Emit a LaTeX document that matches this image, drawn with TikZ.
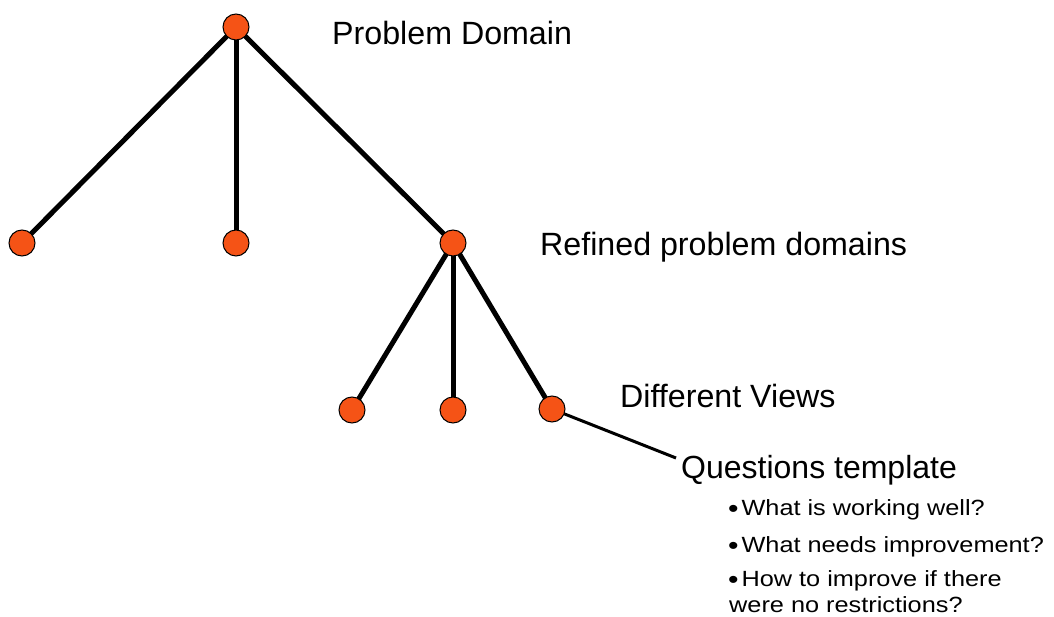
\documentclass[tikz,border=0pt]{standalone}
\usepackage{fontspec}
\usepackage{graphicx}
\setmainfont{Liberation Sans}
\definecolor{dotorange}{RGB}{245,83,22}
% bullet item text: slightly widened 22pt type
\newcommand{\qline}[1]{\scalebox{1.15}[1]{#1}}
\newcommand{\qbullet}{\raisebox{-2.8pt}{\fontsize{26}{26}\selectfont\textbullet}\hspace{2.5pt}}
\begin{document}
\begin{tikzpicture}[x=1pt,y=-1pt,
  dot/.style={circle,draw=black,line width=1pt,fill=dotorange,minimum size=26pt,inner sep=0pt},
  branch/.style={line width=5pt},
  leader/.style={line width=3pt},
  label/.style={anchor=base west,inner sep=0pt,font=\fontsize{32.2}{36}\selectfont},
  bigger/.style={anchor=base west,inner sep=0pt,font=\fontsize{32}{38}\selectfont},
  item/.style={anchor=base west,inner sep=0pt,font=\fontsize{22}{26}\selectfont}]
\useasboundingbox (0,0) rectangle (1054,617);

% tree lines (drawn first so the dots sit on top)
\coordinate (p0) at (236,27);
\coordinate (p1) at (22,243);
\coordinate (p2) at (236,243);
\coordinate (p3) at (453,243);
\coordinate (p4) at (352,410);
\coordinate (p5) at (453,410);
\coordinate (p6) at (552,409);
\coordinate (qend) at (676,458);

\draw[branch] (p0) -- (p1);
\draw[branch] (p0) -- (p2);
\draw[branch] (p0) -- (p3);
\draw[branch] (p3) -- (p4);
\draw[branch] (p3) -- (p5);
\draw[branch] (p3) -- (p6);
\draw[leader] (p6) -- (qend);

% dots
\node[dot] (root) at (p0) {};
\node[dot] (a) at (p1) {};
\node[dot] (b) at (p2) {};
\node[dot] (c) at (p3) {};
\node[dot] (d) at (p4) {};
\node[dot] (e) at (p5) {};
\node[dot] (f) at (p6) {};

% labels
\node[label] (lroot) at (332,45) {Problem Domain};
\node[label] (lrefined) at (540,256) {Refined problem domains};
\node[label] (lviews) at (620,407) {Different Views};
\node[bigger] (lquest) at (681,478) {Questions template};

\node[item] (q1) at (728,515) {\qline{\qbullet What is working well?}};
\node[item] (q2) at (728,552) {\qline{\qbullet What needs improvement?}};
\node[item] (q3) at (728,586) {\qline{\qbullet How to improve if there}};
\node[item] (q4) at (729,612) {\qline{were no restrictions?}};
\end{tikzpicture}
\end{document}
